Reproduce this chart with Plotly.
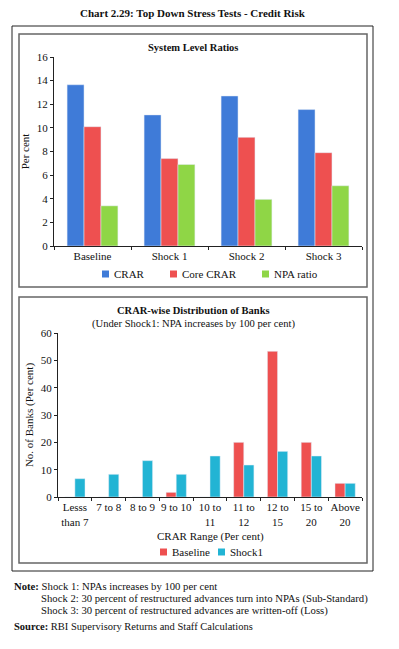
import plotly.graph_objects as go

# ---- data ----
top_categories = ["Baseline", "Shock 1", "Shock 2", "Shock 3"]
crar = [13.65, 11.1, 12.7, 11.55]
core_crar = [10.1, 7.4, 9.2, 7.9]
npa_ratio = [3.4, 6.9, 3.95, 5.1]

bottom_categories = ["Lesss<br>than 7", "7 to 8", "8 to 9", "9 to 10", "10 to<br>11",
                     "11 to<br>12", "12 to<br>15", "15 to<br>20", "Above<br>20"]
baseline = [0, 0, 0, 1.7, 0, 20.0, 53.3, 20.0, 5.0]
shock1 = [6.7, 8.3, 13.3, 8.3, 15.0, 11.7, 16.7, 15.0, 5.0]

top_ticks = [0, 2, 4, 6, 8, 10, 12, 14, 16]
bottom_ticks = [0, 10, 20, 30, 40, 50, 60]

W, H = 399, 649
FONT = "Liberation Serif"
BLUE, RED, GREEN, CYAN = "#3f7bd8", "#ee5050", "#8fd646", "#22b4d4"


def px(x):
    return x / W


def py(y):
    return 1 - y / H


fig = go.Figure()
fig.add_trace(go.Bar(x=top_categories, y=crar, name="CRAR", marker_color=BLUE,
                     xaxis="x", yaxis="y", offsetgroup="a"))
fig.add_trace(go.Bar(x=top_categories, y=core_crar, name="Core CRAR", marker_color=RED,
                     xaxis="x", yaxis="y", offsetgroup="b"))
fig.add_trace(go.Bar(x=top_categories, y=npa_ratio, name="NPA ratio", marker_color=GREEN,
                     xaxis="x", yaxis="y", offsetgroup="c"))
fig.add_trace(go.Bar(x=bottom_categories, y=baseline, name="Baseline", marker_color=RED,
                     xaxis="x2", yaxis="y2", width=0.3, offset=-0.3))
fig.add_trace(go.Bar(x=bottom_categories, y=shock1, name="Shock1", marker_color=CYAN,
                     xaxis="x2", yaxis="y2", width=0.3, offset=0.0))

axis_common = dict(showline=True, linecolor="#222", linewidth=1, ticks="outside",
                   tickcolor="#222", ticklen=3, showgrid=False, zeroline=False,
                   automargin=False,
                   tickfont=dict(family=FONT, size=11, color="#111"))

fig.update_layout(
    width=W, height=H, margin=dict(l=0, r=0, t=0, b=0, autoexpand=False),
    paper_bgcolor="white", plot_bgcolor="white",
    barmode="group", bargap=0.34, bargroupgap=0,
    font=dict(family=FONT, size=11, color="#111"),
    showlegend=False,
    xaxis=dict(domain=[px(54), px(362)], anchor="y", tickson="boundaries", tickangle=0,
               **axis_common),
    yaxis=dict(domain=[py(246), py(57)], anchor="x", range=[0, 16], tickvals=top_ticks,
               title=dict(text="Per cent", font=dict(family=FONT, size=11), standoff=4),
               **axis_common),
    xaxis2=dict(domain=[px(58), px(362)], anchor="y2", tickson="boundaries", tickangle=0,
                **axis_common),
    yaxis2=dict(domain=[py(497), py(333)], anchor="x2", range=[0, 60], tickvals=bottom_ticks,
                title=dict(text="No. of Banks (Per cent)", font=dict(family=FONT, size=11), standoff=4),
                **axis_common),
)

shapes = [
    dict(type="rect", xref="paper", yref="paper", x0=px(12), x1=px(373), y0=py(571), y1=py(26),
         line=dict(color="#222", width=1)),
    dict(type="rect", xref="paper", yref="paper", x0=px(19), x1=px(367), y0=py(287), y1=py(34),
         line=dict(color="#666", width=1.5)),
    dict(type="rect", xref="paper", yref="paper", x0=px(19), x1=px(367), y0=py(563), y1=py(297),
         line=dict(color="#666", width=1.5)),
]


def ann(text, x, y, size=11, bold=False, xanchor="center"):
    t = f"<b>{text}</b>" if bold else text
    fig.add_annotation(text=t, x=px(x), y=py(y), xref="paper", yref="paper", showarrow=False,
                       xanchor=xanchor, yanchor="middle", font=dict(family=FONT, size=size, color="#111"))


# legends (swatch + label)
legend_items = [
    ("CRAR", BLUE, 102, 274), ("Core CRAR", RED, 170, 274), ("NPA ratio", GREEN, 262, 274),
    ("Baseline", RED, 160, 552), ("Shock1", CYAN, 218, 552),
]
for label, color, lx, ly in legend_items:
    shapes.append(dict(type="rect", xref="paper", yref="paper", x0=px(lx), x1=px(lx + 7),
                       y0=py(ly + 3.5), y1=py(ly - 3.5), line=dict(width=0), fillcolor=color))
    ann(label, lx + 10, ly, size=11, xanchor="left")

fig.update_layout(shapes=shapes)

ann("Chart 2.29: Top Down Stress Tests - Credit Risk", 193, 13, size=11, bold=True)
ann("System Level Ratios", 193, 48, size=10.5, bold=True)
ann("CRAR-wise Distribution of Banks", 193, 311, size=10.5, bold=True)
ann("(Under Shock1: NPA increases by 100 per cent)", 193, 324, size=10.6)
ann("CRAR Range (Per cent)", 210, 536, size=11)
ann("<b>Note:</b> Shock 1: NPAs increases by 100 per cent", 12, 586, size=10.7, xanchor="left")
ann("Shock 2: 30 percent of restructured advances turn into NPAs (Sub-Standard)", 39, 598, size=10.7, xanchor="left")
ann("Shock 3: 30 percent of restructured advances are written-off (Loss)", 39, 610, size=10.7, xanchor="left")
ann("<b>Source:</b> RBI Supervisory Returns and Staff Calculations", 12, 626, size=10.5, xanchor="left")

fig.write_html("out.html", config={"displayModeBar": False},
               post_script="document.body.style.margin='0';")
